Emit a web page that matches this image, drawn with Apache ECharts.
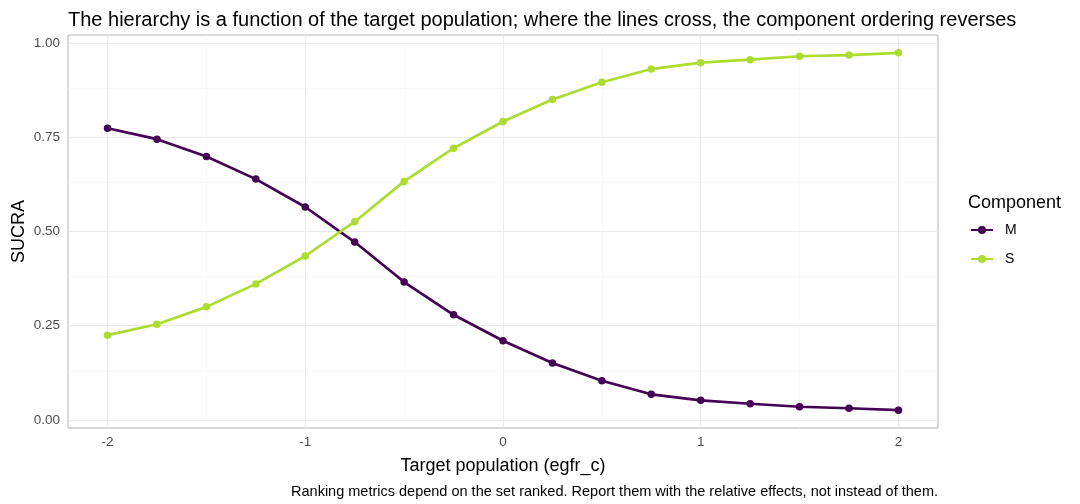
<!DOCTYPE html>
<html>
<head>
<meta charset="utf-8">
<script src="https://cdn.jsdelivr.net/npm/echarts@6/dist/echarts.min.js"></script>
<style>
  html, body { margin: 0; padding: 0; background: #fff; }
  #chart { width: 1080px; height: 504px; }
</style>
</head>
<body>
<div id="chart"></div>
<script>
// target population values (egfr_c)
const xValues = [-2, -1.75, -1.5, -1.25, -1, -0.75, -0.5, -0.25, 0, 0.25, 0.5, 0.75, 1, 1.25, 1.5, 1.75, 2]
const sucraM = [0.774, 0.745, 0.699, 0.639, 0.565, 0.472, 0.366, 0.279, 0.210, 0.151, 0.104, 0.068, 0.052, 0.043, 0.035, 0.031, 0.026]
const sucraS = [0.225, 0.254, 0.300, 0.361, 0.435, 0.526, 0.633, 0.721, 0.792, 0.850, 0.896, 0.931, 0.948, 0.956, 0.965, 0.968, 0.974]
const xTicks = [-2, -1, 0, 1, 2]
const xMinor = [-1.5, -0.5, 0.5, 1.5]
const yTicks = [0, 0.25, 0.5, 0.75, 1]
const yMinor = [0.125, 0.375, 0.625, 0.875]

const font = 'Liberation Sans, Arial, sans-serif'
const chart = echarts.init(document.getElementById('chart'))

function gridLines() {
  var d = []
  var minor = { color: '#f5f5f5', width: 0.6, type: 'solid' }
  var major = { color: '#ebebeb', width: 1, type: 'solid' }
  xMinor.forEach(v => d.push({ xAxis: v, lineStyle: minor }))
  yMinor.forEach(v => d.push({ yAxis: v, lineStyle: minor }))
  xTicks.forEach(v => d.push({ xAxis: v, lineStyle: major }))
  yTicks.forEach(v => d.push({ yAxis: v, lineStyle: major }))
  return d
}

chart.setOption({
  animation: false,
  textStyle: { fontFamily: font },
  title: [{
    text: 'The hierarchy is a function of the target population; where the lines cross, the component ordering reverses',
    left: 63, top: 5,
    textStyle: { fontSize: 20, fontWeight: 'normal', color: '#000', fontFamily: font }
  }, {
    text: 'Ranking metrics depend on the set ranked. Report them with the relative effects, not instead of them.',
    right: 137, top: 479,
    textStyle: { fontSize: 14.5, fontWeight: 'normal', color: '#000', fontFamily: font }
  }, {
    text: 'Component',
    left: 963, top: 189,
    textStyle: { fontSize: 18, fontWeight: 'normal', color: '#000', fontFamily: font }
  }],
  legend: {
    orient: 'vertical',
    left: 965, top: 218,
    itemWidth: 22, itemHeight: 10, itemGap: 15,
    textStyle: { fontSize: 14, color: '#000', fontFamily: font, padding: [0, 0, 0, 7] },
    data: ['M', 'S']
  },
  grid: {
    left: 68, right: 142, top: 35, bottom: 76,
    outerBoundsMode: 'none',
    show: true, borderColor: '#b3b3b3', borderWidth: 1, backgroundColor: '#fff'
  },
  xAxis: {
    type: 'value', min: -2.2, max: 2.2,
    name: 'Target population (egfr_c)', nameLocation: 'middle', nameGap: 29,
    nameMoveOverlap: false,
    nameTextStyle: { fontSize: 18, color: '#000', fontFamily: font },
    axisLine: { show: false },
    axisTick: { show: true, length: 4, lineStyle: { color: '#b3b3b3' }, customValues: xTicks },
    axisLabel: { fontSize: 13.5, color: '#4d4d4d', margin: 7, customValues: xTicks },
    splitLine: { show: false }
  },
  yAxis: {
    type: 'value', min: -0.0214, max: 1.0214,
    name: 'SUCRA', nameLocation: 'middle', nameGap: 40,
    nameMoveOverlap: false,
    nameTextStyle: { fontSize: 18, color: '#000', fontFamily: font },
    axisLine: { show: false },
    axisTick: { show: true, length: 4, lineStyle: { color: '#b3b3b3' }, customValues: yTicks },
    axisLabel: { fontSize: 13.5, color: '#4d4d4d', margin: 8, customValues: yTicks, formatter: v => v.toFixed(2) },
    splitLine: { show: false }
  },
  series: [{
    type: 'line', name: '_grid', data: [], silent: true, z: 1,
    markLine: { silent: true, z: 1, symbol: 'none', label: { show: false }, data: gridLines(), animation: false }
  }, {
    name: 'M', type: 'line', z: 3,
    data: xValues.map((x, i) => [x, sucraM[i]]),
    symbol: 'circle', symbolSize: 7.5,
    lineStyle: { width: 2.7, color: '#440154' },
    itemStyle: { color: '#440154' }
  }, {
    name: 'S', type: 'line', z: 3,
    data: xValues.map((x, i) => [x, sucraS[i]]),
    symbol: 'circle', symbolSize: 7.5,
    lineStyle: { width: 2.7, color: '#addc30' },
    itemStyle: { color: '#addc30' }
  }]
})
</script>
</body>
</html>
